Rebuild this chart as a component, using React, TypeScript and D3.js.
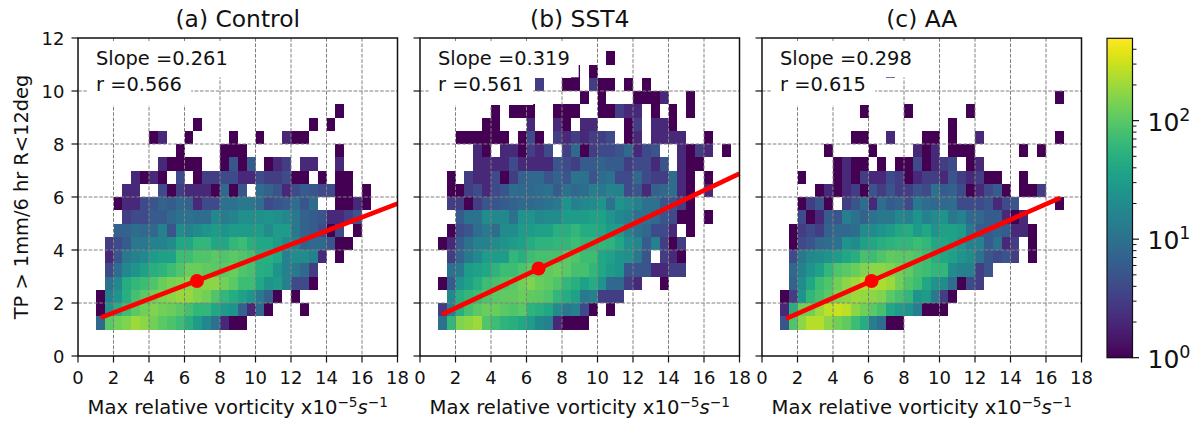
import React from "react";
import * as d3 from "d3";

const xTicks = [0, 2, 4, 6, 8, 10, 12, 14, 16, 18];
const yTicks = [0, 2, 4, 6, 8, 10, 12];
const titles = ["(a) Control", "(b) SST4", "(c) AA"];
const slopes = ["Slope =0.261", "Slope =0.319", "Slope =0.298"];
const corrs = ["r =0.566", "r =0.561", "r =0.615"];
const lineStarts = [[1.28, 1.45], [1.25, 1.57], [1.36, 1.41]];
const lineEnds = [[18, 5.75], [18, 6.88], [16.8, 5.97]];
const meanPoints = [[6.7, 2.83], [6.68, 3.3], [6.17, 2.83]];
const cbMajor = [1, 10, 100];
const cbMinor = [2, 3, 4, 5, 6, 7, 8, 9, 20, 30, 40, 50, 60, 70, 80, 90, 200, 300, 400];

// rows start at y = 1 (bin 0.5), columns start at x = 1 (bin 0.5); 0 = empty bin
const controlCounts = [
  [8,100,130,150,200,170,130,100,85,70,50,30,18,10,2,1,1],
  [1,25,50,70,100,130,150,130,120,100,80,60,60,40,30,25,7,2,8,1,0,0,0,1],
  [1,15,25,50,80,100,130,150,170,190,190,150,130,90,60,45,35,25,12,7,1,0,1],
  [0,10,18,45,60,70,90,120,140,150,170,150,170,170,130,100,70,70,40,25,30,15,4,4,1],
  [0,4,9,18,25,35,50,55,70,90,120,120,110,100,100,120,90,80,50,45,25,15,12,8,3],
  [0,2,5,12,15,18,30,35,35,70,70,90,90,100,90,100,90,80,50,50,40,15,20,20,15,2,0,1],
  [0,3,4,6,12,12,15,15,20,40,40,60,60,40,40,60,70,50,40,40,30,20,15,7,8,8,5,1,1],
  [0,0,7,7,9,8,8,15,5,20,15,20,25,30,25,30,30,30,30,20,30,30,12,7,6,4,1,4,0,1],
  [0,0,0,3,4,4,6,6,8,10,10,9,9,18,13,16,22,22,22,25,22,18,12,7,6,5,2,2,3,5],
  [0,0,1,2,2,4,5,7,6,8,7,2,4,4,10,10,12,12,9,4,5,6,9,5,9,0,0,1,1,2,1],
  [0,0,0,2,2,0,0,4,1,3,2,2,2,1,8,1,5,0,9,7,5,2,4,6,5,4,4,1,1,0,1],
  [0,0,0,0,2,1,2,1,0,4,0,1,3,3,4,4,2,2,4,3,3,4,1,1,0,1,0,1,1],
  [0,0,0,0,0,0,0,2,1,1,1,1,0,0,1,5,1,6,0,1,2,3,0,2,2,0,0,2],
  [0,0,0,0,0,0,0,0,0,1,0,0,0,0,1,1,1,0,0,0,0,0,0,0,0,0,0,1],
  [0,0,0,0,0,0,1,2,0,0,1,0,0,0,0,1,0,0,1,0,0,2,1,1],
  [0,0,0,0,0,0,0,0,0,0,0,1,0,0,0,0,0,0,0,0,0,0,0,0,1,0,1],
  [0,0,0,0,0,0,0,0,0,0,0,0,0,0,0,0,0,0,0,0,0,0,0,0,0,0,0,1],
];

const sst4Counts = [
  [10,60,150,170,200,90,70,55,50,40,30,18,15,2,1,1,1],
  [3,15,50,80,100,120,120,100,90,100,55,50,40,20,12,15,4,1,0,1],
  [0,18,50,60,70,90,100,110,110,120,110,100,90,60,45,35,12,15,3,3,3],
  [1,6,25,35,50,70,80,90,100,130,150,120,110,90,60,50,35,45,25,8,8,3,2,0,0,1],
  [0,10,12,30,35,40,55,70,70,85,100,110,110,120,100,80,80,60,40,30,25,5,5,5,2,2,3,3],
  [0,3,7,12,18,30,30,30,60,50,70,80,80,80,100,90,70,70,40,35,25,22,12,5,0,3,2,1],
  [1,2,6,10,15,15,20,25,30,35,45,55,55,60,60,70,60,60,60,55,40,22,18,6,15,3,1,3],
  [0,1,4,5,9,12,9,20,20,30,30,35,35,50,50,60,45,45,40,30,30,15,10,8,4,4,2,0,1],
  [0,0,6,10,10,20,18,18,10,25,25,18,20,20,30,30,30,35,35,25,18,15,10,10,8,5,4,1,1,0,1],
  [0,3,3,1,3,5,5,6,7,8,8,9,10,12,25,15,18,20,25,10,25,20,15,10,10,5,5,3,1],
  [0,1,1,3,4,2,4,5,9,8,8,9,10,6,10,8,9,14,12,16,15,4,5,2,7,8,9,2,1,0,2],
  [0,1,0,3,2,2,4,1,3,7,8,8,5,7,5,11,10,5,9,10,4,4,8,4,3,3,9,2,1,0,1],
  [0,0,0,0,2,2,2,2,4,2,2,2,2,5,4,3,6,6,7,6,6,3,4,4,2,5,0,2,1,1],
  [0,0,0,0,2,1,0,2,2,1,3,2,4,0,3,8,1,3,4,4,5,8,2,4,5,0,0,2,1,3,2,0,1],
  [0,0,1,1,1,1,1,1,0,1,4,1,0,3,2,3,2,3,3,4,0,1,2,0,2,2,2,2,0,0,1],
  [0,0,0,0,0,1,1,0,0,0,2,0,0,2,1,0,2,2,0,0,0,1,3,0,2,2,1],
  [0,0,0,0,0,0,1,0,1,1,1,0,0,1,1,1,0,0,1,1,3,2,2,0,1,0,1,0,1],
  [0,0,0,0,0,0,0,0,0,0,0,0,0,0,0,0,1,0,1,0,0,0,1,1,1,2,0,0,1],
  [0,0,0,0,0,0,0,0,0,0,0,3,0,0,1,1,0,3,1,1,0,1,0,1],
  [0,0,0,0,0,0,0,0,0,0,0,0,0,0,0,1,0,1],
  [0,0,0,0,0,0,0,0,0,0,0,0,0,0,0,0,0,0,0,1],
];

const aaCounts = [
  [5,90,170,250,250,170,130,110,70,45,14,9,1,1],
  [2,50,130,130,200,270,300,270,170,130,100,80,40,30,25,14,1,1,1],
  [1,3,25,60,80,100,150,170,200,180,170,150,100,80,60,25,30,12,3,1],
  [0,7,20,40,70,90,130,170,200,250,250,230,200,130,90,70,40,25,20,9,1,4,3],
  [0,8,15,25,35,60,90,100,120,150,170,170,150,130,110,80,70,60,60,20,15,15,3,5],
  [0,4,12,18,20,25,30,40,50,80,70,90,110,100,100,90,70,50,40,35,25,20,10,5,4,5,3,0,1],
  [0,1,4,5,8,9,10,25,20,35,40,50,55,60,60,70,60,40,40,35,25,15,15,6,10,2,3,0,1],
  [0,1,3,4,3,7,8,8,9,20,20,25,30,40,45,30,40,25,35,35,30,12,6,6,7,6,2,2,1],
  [0,0,4,1,2,6,5,14,10,7,10,12,12,18,15,25,15,20,25,12,15,8,8,6,6,2,1,2],
  [0,0,1,3,5,1,0,3,5,9,2,9,6,7,4,12,9,8,8,9,4,4,4,5,2,4,5,0,0,0,0,1],
  [0,0,0,0,1,2,1,2,3,1,5,3,5,3,3,5,4,10,6,7,4,1,2,4,6,1,0,1,1,3],
  [0,0,1,0,0,0,1,2,1,3,2,2,4,3,1,2,3,3,2,5,3,2,3,1,1,0,0,1],
  [0,0,0,0,0,0,1,2,1,1,0,1,0,1,1,4,1,2,3,4,0,1,2],
  [0,0,0,0,0,1,0,0,0,0,1,0,0,0,0,2,1,2,0,1,1,1,0,0,0,0,0,1,0,1],
  [0,0,0,0,0,0,0,0,1,1,0,0,2,0,0,0,1,1,0,1,0,0,2,0,0,0,0,0,0,0,0,1],
  [0,0,0,0,0,0,0,0,0,0,0,0,0,0,0,0,0,0,0,1],
  [0,0,0,0,0,0,0,0,0,1,0,0,0,0,1,0,0,0,0,0,0,1],
  [0,0,0,0,0,0,0,0,0,0,0,0,0,0,0,0,0,0,0,0,0,0,0,0,0,0,0,0,0,0,0,1],
  [],
  [0,0,0,0,0,0,0,0,0,0,0,0,2],
];

const panelCounts = [controlCounts, sst4Counts, aaCounts];
const panelLefts = [78, 420, 762];
const panelWidth = 319.5;
const top = 38;
const bottom = 356;
const FONT = "'DejaVu Sans', sans-serif";
const ink = "#111";
const color = d3.scaleSequentialLog(d3.interpolateViridis).domain([1, 495]);
const y = d3.scaleLinear().domain([0, 12]).range([bottom, top]);
const cbY = d3.scaleLog().domain([1, 495]).range([357.7, 38.3]);
const cbStrips = d3.range(38, 358);

function XLabel({ cx }: { cx: number }) {
  return (
    <text x={cx} y={414} textAnchor="middle" fontSize={19.6} fontFamily={FONT} fill={ink}>
      Max relative vorticity x10
      <tspan dy={-7.5} fontSize={13.7}>−5</tspan>
      <tspan dy={7.5} fontStyle="italic">s</tspan>
      <tspan dy={-7.5} fontSize={13.7}>−1</tspan>
    </text>
  );
}

function Panel({ index }: { index: number }) {
  const left = panelLefts[index];
  const x = d3.scaleLinear().domain([0, 18]).range([left, left + panelWidth]);
  const counts = panelCounts[index];
  const line = d3.line<number[]>().x((d) => x(d[0])).y((d) => y(d[1]));
  return (
    <g>
      <g shapeRendering="crispEdges">
        {counts.flatMap((row, r) =>
          row.map((v, c) =>
            v > 0 ? (
              <rect
                key={`${r}-${c}`}
                x={x(1 + c * 0.5)}
                y={y(1.5 + r * 0.5)}
                width={x(1.5 + c * 0.5) - x(1 + c * 0.5)}
                height={y(1 + r * 0.5) - y(1.5 + r * 0.5)}
                fill={color(v)}
              />
            ) : null
          )
        )}
      </g>
      {xTicks.slice(1, -1).map((t) => (
        <line key={`gx${t}`} x1={x(t)} x2={x(t)} y1={top} y2={bottom} stroke="#808080" strokeWidth={1} strokeDasharray="3.7 1.6" />
      ))}
      {yTicks.slice(1, -1).map((t) => (
        <line key={`gy${t}`} x1={left} x2={left + panelWidth} y1={y(t)} y2={y(t)} stroke="#808080" strokeWidth={1} strokeDasharray="3.7 1.6" />
      ))}
      <rect x={left + 8.7} y={top + 3} width={150} height={36.3} fill="#fff" />
      <rect x={left + 8.7} y={top + 28} width={104.5} height={39} fill="#fff" />
      <path d={line([lineStarts[index], lineEnds[index]]) ?? ""} stroke="#ff0000" strokeWidth={4.7} fill="none" />
      <circle cx={x(meanPoints[index][0])} cy={y(meanPoints[index][1])} r={7} fill="#ff0000" />
      <text x={left + 18} y={top + 27} fontSize={19.4} fontFamily={FONT} fill={ink}>{slopes[index]}</text>
      <text x={left + 18} y={top + 53} fontSize={19.4} fontFamily={FONT} fill={ink}>{corrs[index]}</text>
      <rect x={left} y={top} width={panelWidth} height={bottom - top} fill="none" stroke={ink} strokeWidth={1.5} />
      {xTicks.map((t) => (
        <g key={`tx${t}`}>
          <line x1={x(t)} x2={x(t)} y1={bottom} y2={bottom + 6.5} stroke={ink} strokeWidth={1.2} />
          <text x={x(t)} y={bottom + 28} textAnchor="middle" fontSize={18} fontFamily={FONT} fill={ink}>{t}</text>
        </g>
      ))}
      {yTicks.map((t) => (
        <g key={`ty${t}`}>
          <line x1={left - 6.5} x2={left} y1={y(t)} y2={y(t)} stroke={ink} strokeWidth={1.2} />
          {index === 0 ? (
            <text x={left - 13.5} y={y(t) + 7} textAnchor="end" fontSize={18} fontFamily={FONT} fill={ink}>{t}</text>
          ) : null}
        </g>
      ))}
      <text x={left + panelWidth / 2} y={27} textAnchor="middle" fontSize={23.4} fontFamily={FONT} fill={ink}>{titles[index]}</text>
      <XLabel cx={left + panelWidth / 2} />
    </g>
  );
}

export default function App() {
  return (
    <svg width={1199} height={421} style={{ position: "absolute", left: 0, top: 0, background: "#fff" }}>
      {panelLefts.map((_, i) => <Panel key={i} index={i} />)}
      <text transform="translate(28,197) rotate(-90)" textAnchor="middle" fontSize={19.4} fontFamily={FONT} fill={ink}>
        TP &gt; 1mm/6 hr R&lt;12deg
      </text>
      <g shapeRendering="crispEdges">
        {cbStrips.map((py) => (
          <rect key={py} x={1107} y={py} width={25.5} height={1.2} fill={color(Math.min(495, Math.max(1, cbY.invert(py + 0.5))))} />
        ))}
      </g>
      <rect x={1107} y={38.3} width={25.5} height={319.4} fill="none" stroke={ink} strokeWidth={1.2} />
      {cbMinor.map((t) => (
        <line key={t} x1={1132.5} x2={1136.5} y1={cbY(t)} y2={cbY(t)} stroke={ink} strokeWidth={1} />
      ))}
      {cbMajor.map((t, i) => (
        <g key={t}>
          <line x1={1132.5} x2={1139} y1={cbY(t)} y2={cbY(t)} stroke={ink} strokeWidth={1.2} />
          <text x={1147.5} y={cbY(t) + 10} fontSize={25} fontFamily={FONT} fill={ink}>
            10
            <tspan dy={-10} fontSize={17.5}>{i}</tspan>
          </text>
        </g>
      ))}
    </svg>
  );
}
